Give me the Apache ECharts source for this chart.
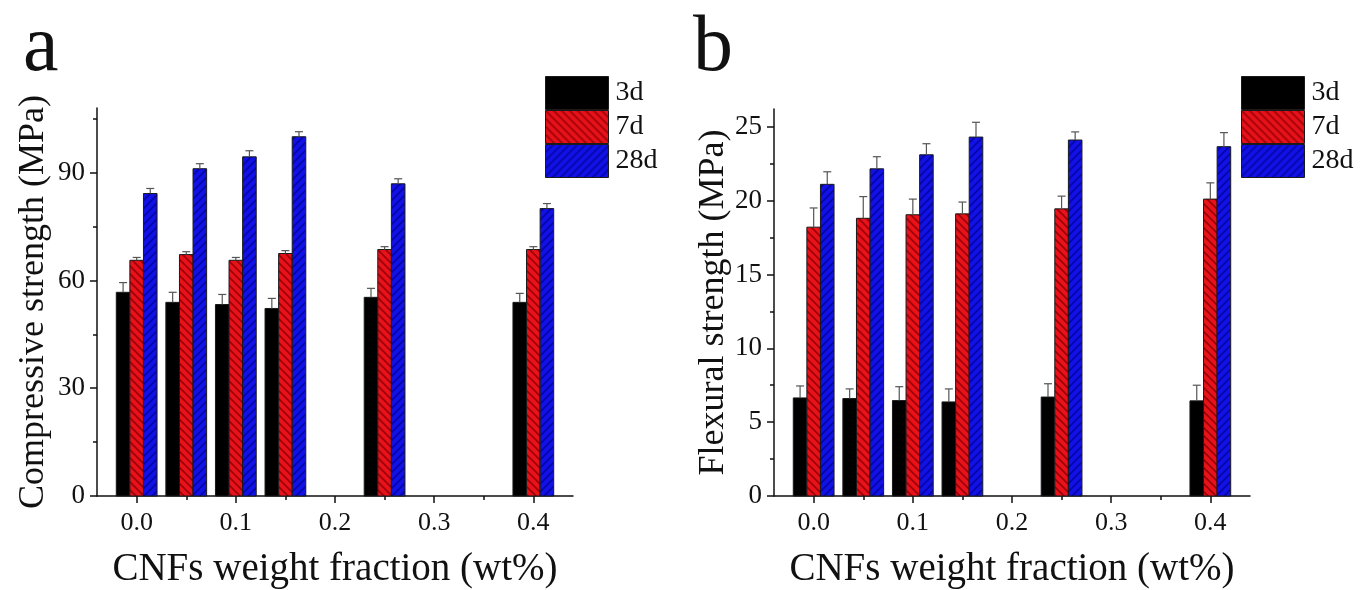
<!DOCTYPE html>
<html><head><meta charset="utf-8">
<script src="https://cdn.jsdelivr.net/npm/echarts@6/dist/echarts.min.js"></script>
<style>html,body{margin:0;padding:0;background:#fff}#c{width:1372px;height:590px}</style>
</head><body><div id="c"></div>
<script>
// ---- data ----
const groupX = [0.0, 0.05, 0.1, 0.15, 0.25, 0.4];
const seriesNames = ['3d', '7d', '28d'];
const comp3d     = [56.7, 53.9, 53.3, 52.2, 55.3, 53.9];
const comp3dErr  = [2.7, 2.8, 2.8, 2.8, 2.5, 2.5];
const comp7d     = [65.6, 67.2, 65.6, 67.5, 68.6, 68.6];
const comp7dErr  = [0.8, 0.8, 0.8, 0.8, 0.8, 0.8];
const comp28d    = [84.2, 91.1, 94.4, 100.0, 86.9, 80.0];
const comp28dErr = [1.4, 1.4, 1.7, 1.4, 1.4, 1.4];
const flex3d     = [6.64, 6.6, 6.46, 6.37, 6.7, 6.44];
const flex3dErr  = [0.81, 0.65, 0.94, 0.88, 0.9, 1.06];
const flex7d     = [18.2, 18.8, 19.04, 19.1, 19.44, 20.1];
const flex7dErr  = [1.3, 1.47, 1.06, 0.8, 0.86, 1.1];
const flex28d    = [21.1, 22.15, 23.1, 24.3, 24.1, 23.65];
const flex28dErr = [0.85, 0.82, 0.75, 1.0, 0.55, 0.95];
const xTickLabels = [0.0, 0.1, 0.2, 0.3, 0.4];
const xMinorTicks = [0.05, 0.15, 0.25, 0.35];
const compTicks = [0, 30, 60, 90];
const compMinor = [15, 45, 75, 105];
const flexTicks = [0, 5, 10, 15, 20, 25];
const flexMinor = [2.5, 7.5, 12.5, 17.5, 22.5];
const panelLetters = ['a', 'b'];
const yTitles = ['Compressive strength (MPa)', 'Flexural strength (MPa)'];
const xTitle = 'CNFs weight fraction (wt%)';

// ---- styles ----
const SERIF = 'Liberation Serif';
const BAR_W = 0.0137;
function hatch(bg, line, dir) {
  const c = document.createElement('canvas'); c.width = 8; c.height = 8;
  const g = c.getContext('2d');
  g.fillStyle = bg; g.fillRect(0, 0, 8, 8);
  g.strokeStyle = line; g.lineWidth = 1.6; g.beginPath();
  if (dir > 0) {
    g.moveTo(-1, 9); g.lineTo(9, -1); g.moveTo(-5, 5); g.lineTo(5, -5); g.moveTo(3, 13); g.lineTo(13, 3);
  } else {
    g.moveTo(-1, -1); g.lineTo(9, 9); g.moveTo(-5, 3); g.lineTo(5, 13); g.moveTo(3, -5); g.lineTo(13, 5);
  }
  g.stroke();
  return { image: c, repeat: 'repeat' };
}
const fills = ['#000000', hatch('#e8121a', '#9c0008', -1), hatch('#1212e6', '#0606a8', 1)];

function barSeries(name, idx, panel, vals, errs) {
  return {
    type: 'custom', name: name,
    xAxisIndex: panel * 2, yAxisIndex: panel * 2,
    itemStyle: { color: fills[idx] },
    data: groupX.map((x, i) => [x, vals[i], errs[i]]),
    renderItem: function (params, api) {
      const x = api.value(0), y = api.value(1), e = api.value(2);
      const base = api.coord([x, 0]);
      const top = api.coord([x, y]);
      const et = api.coord([x, y + e]);
      const bw = api.size([BAR_W, 0])[0];
      const left = base[0] + (idx - 1.5) * bw;
      const cx = left + bw / 2;
      return {
        type: 'group', children: [
          { type: 'rect', shape: { x: left, y: top[1], width: bw, height: base[1] - top[1] },
            style: { fill: fills[idx], stroke: '#1a1a1a', lineWidth: 1 } },
          { type: 'line', shape: { x1: cx, y1: top[1], x2: cx, y2: et[1] }, style: { stroke: '#555', lineWidth: 1.2 } },
          { type: 'line', shape: { x1: cx - 4, y1: et[1], x2: cx + 4, y2: et[1] }, style: { stroke: '#555', lineWidth: 1.2 } }
        ]
      };
    }
  };
}

const grids = [
  { left: 97, top: 108, width: 476, height: 388, outerBoundsMode: 'none', containLabel: false },
  { left: 774, top: 109, width: 476, height: 387, outerBoundsMode: 'none', containLabel: false }
];
const yMax = [108, 26.2];
const yMajor = [compTicks, flexTicks];
const yMinorT = [compMinor, flexMinor];
const yNameGap = [45, 39];

const xAxes = [], yAxes = [];
[0, 1].forEach(p => {
  xAxes.push({
    type: 'value', gridIndex: p, min: -0.04, max: 0.44, position: 'bottom',
    name: xTitle, nameLocation: 'middle', nameGap: 54,
    nameTextStyle: { fontFamily: SERIF, fontSize: 39, color: '#111' },
    axisLine: { show: true, onZero: false, lineStyle: { color: '#111', width: 1.5 } },
    axisTick: { show: true, customValues: xTickLabels, length: 7, lineStyle: { color: '#111', width: 1.5 } },
    axisLabel: { customValues: xTickLabels, formatter: v => v.toFixed(1), fontFamily: SERIF, fontSize: 26, color: '#111', margin: 14 },
    splitLine: { show: false }
  });
  xAxes.push({
    type: 'value', gridIndex: p, min: -0.04, max: 0.44, position: 'bottom',
    axisLine: { show: false, onZero: false },
    axisTick: { show: true, customValues: xMinorTicks, length: 4, lineStyle: { color: '#111', width: 1.5 } },
    axisLabel: { show: false }, splitLine: { show: false }
  });
  yAxes.push({
    type: 'value', gridIndex: p, min: 0, max: yMax[p], position: 'left',
    name: yTitles[p], nameLocation: 'middle', nameGap: yNameGap[p],
    nameTextStyle: { fontFamily: SERIF, fontSize: 36, color: '#111' },
    axisLine: { show: true, onZero: false, lineStyle: { color: '#111', width: 1.5 } },
    axisTick: { show: true, customValues: yMajor[p], length: 7, lineStyle: { color: '#111', width: 1.5 } },
    axisLabel: { customValues: yMajor[p], fontFamily: SERIF, fontSize: 27, color: '#111', margin: 12 },
    splitLine: { show: false }
  });
  yAxes.push({
    type: 'value', gridIndex: p, min: 0, max: yMax[p], position: 'left',
    axisLine: { show: false, onZero: false },
    axisTick: { show: true, customValues: yMinorT[p], length: 4, lineStyle: { color: '#111', width: 1.5 } },
    axisLabel: { show: false }, splitLine: { show: false }
  });
});

const series = [
  barSeries(seriesNames[0], 0, 0, comp3d, comp3dErr),
  barSeries(seriesNames[1], 1, 0, comp7d, comp7dErr),
  barSeries(seriesNames[2], 2, 0, comp28d, comp28dErr),
  barSeries(seriesNames[0], 0, 1, flex3d, flex3dErr),
  barSeries(seriesNames[1], 1, 1, flex7d, flex7dErr),
  barSeries(seriesNames[2], 2, 1, flex28d, flex28dErr)
];

function legendFor(left) {
  return {
    left: left, top: 76, orient: 'vertical', itemWidth: 63, itemHeight: 33, itemGap: 0,
    icon: 'rect', selectedMode: false, padding: 0,
    textStyle: { fontFamily: SERIF, fontSize: 28, color: '#111', padding: [0, 0, 0, 2] },
    data: seriesNames.map((n, i) => ({ name: n, itemStyle: { color: fills[i], borderColor: '#1a1a1a', borderWidth: 1 } }))
  };
}

const chart = echarts.init(document.getElementById('c'), null, { renderer: 'canvas' });
chart.setOption({
  animation: false,
  backgroundColor: '#fff',
  title: [
    { text: panelLetters[0], left: 18, top: 4, textStyle: { fontFamily: SERIF, fontSize: 80, fontWeight: 'normal', color: '#111' } },
    { text: panelLetters[1], left: 688, top: 4, textStyle: { fontFamily: SERIF, fontSize: 80, fontWeight: 'normal', color: '#111' } }
  ],
  legend: [legendFor(545), legendFor(1241)],
  grid: grids,
  xAxis: xAxes,
  yAxis: yAxes,
  series: series
});
</script></body></html>
